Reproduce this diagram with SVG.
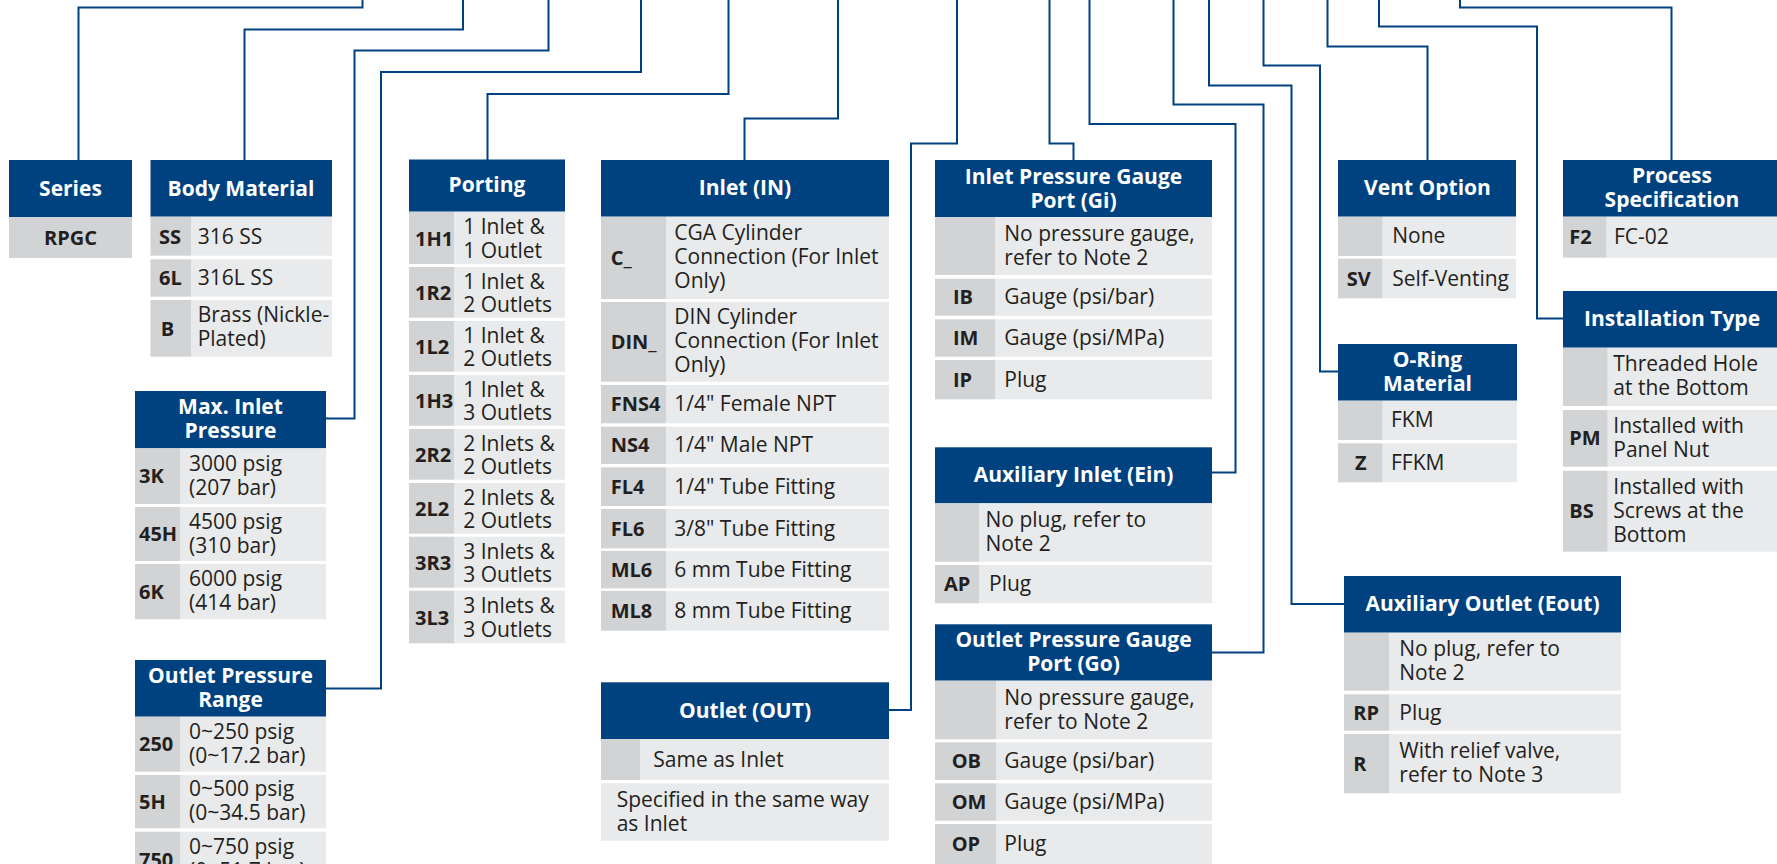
<svg xmlns="http://www.w3.org/2000/svg" width="1777" height="864" viewBox="0 0 1777 864">
  <style>
    .hd { fill: #004180; }
    .cc { fill: #d1d3d4; }
    .dc { fill: #e9eaeb; }
    .ht { font-family: "Open Sans", "Noto Sans", sans-serif; font-weight: bold; font-size: 21px; fill: #ffffff; text-anchor: middle; }
    .ct { font-family: "Open Sans", "Noto Sans", sans-serif; font-weight: bold; font-size: 20px; fill: #231f20; }
    .dt { font-family: "Open Sans", "Noto Sans", sans-serif; font-size: 21px; fill: #231f20; }
    .ln { fill: none; stroke: #004180; stroke-width: 2; }
  </style>
  <rect width="1777" height="864" fill="#ffffff"/>

  <!-- leader lines from the ordering code down to each option table -->
  <g id="connectors" class="ln">
    <polyline points="78.5,160 78.5,7.5 362.5,7.5 362.5,-2"/>
    <polyline points="244.5,160 244.5,29.5 463,29.5 463,-2"/>
    <polyline points="326,418.5 354.5,418.5 354.5,50.5 548.5,50.5 548.5,-2"/>
    <polyline points="326,688.5 381,688.5 381,72 641,72 641,-2"/>
    <polyline points="487.5,160 487.5,94 728.5,94 728.5,-2"/>
    <polyline points="744.5,160 744.5,118.5 838,118.5 838,-2"/>
    <polyline points="889,710 911,710 911,143.5 957,143.5 957,-2"/>
    <polyline points="1073.5,160 1073.5,143.5 1049.5,143.5 1049.5,-2"/>
    <polyline points="1212,472.5 1235.5,472.5 1235.5,124 1089.5,124 1089.5,-2"/>
    <polyline points="1212,652.5 1263.5,652.5 1263.5,104.5 1173.5,104.5 1173.5,-2"/>
    <polyline points="1344,604 1291.5,604 1291.5,85.5 1209,85.5 1209,-2"/>
    <polyline points="1338,371.5 1320,371.5 1320,65.5 1263.5,65.5 1263.5,-2"/>
    <polyline points="1427.5,160 1427.5,46.5 1327.5,46.5 1327.5,-2"/>
    <polyline points="1563,318.5 1537,318.5 1537,26.5 1379,26.5 1379,-2"/>
    <polyline points="1671.5,160 1671.5,7.5 1460,7.5 1460,-2"/>
  </g>

  <!-- Series -->
  <g id="series">
    <rect class="hd" x="9" y="160" width="123" height="57"/>
    <text class="ht" x="70.5" y="196">Series</text>
    <rect class="cc" x="9" y="217" width="123" height="41"/>
    <text class="ct" x="70.5" y="245" text-anchor="middle">RPGC</text>
  </g>

  <!-- Body Material -->
  <g id="body-material">
    <rect class="hd" x="150.5" y="160" width="181.5" height="56.7"/>
    <text class="ht" x="241" y="196">Body Material</text>
    <rect class="cc" x="150.5" y="216.7" width="40.5" height="39"/>
    <rect class="dc" x="191" y="216.7" width="141" height="39"/>
    <text class="ct" x="159" y="243.5">SS</text>
    <text class="dt" x="197.7" y="243.5">316 SS</text>
    <rect class="cc" x="150.5" y="259.3" width="40.5" height="37.4"/>
    <rect class="dc" x="191" y="259.3" width="141" height="37.4"/>
    <text class="ct" x="159" y="285">6L</text>
    <text class="dt" x="197.7" y="285">316L SS</text>
    <rect class="cc" x="150.5" y="300" width="40.5" height="56.7"/>
    <rect class="dc" x="191" y="300" width="141" height="56.7"/>
    <text class="ct" x="160.7" y="336">B</text>
    <text class="dt" x="197.7" y="322">Brass (Nickle-<tspan x="197.7" dy="24">Plated)</tspan></text>
  </g>

  <!-- Max. Inlet Pressure -->
  <g id="max-inlet-pressure">
    <rect class="hd" x="135" y="391" width="191" height="57.3"/>
    <text class="ht" x="230.5" y="414.2">Max. Inlet<tspan x="230.5" dy="24">Pressure</tspan></text>
    <rect class="cc" x="135" y="448.3" width="45" height="55.7"/>
    <rect class="dc" x="180" y="448.3" width="146" height="55.7"/>
    <text class="ct" x="139" y="483.2">3K</text>
    <text class="dt" x="189" y="470.7">3000 psig<tspan x="189" dy="24">(207 bar)</tspan></text>
    <rect class="cc" x="135" y="507" width="45" height="54"/>
    <rect class="dc" x="180" y="507" width="146" height="54"/>
    <text class="ct" x="139" y="541">45H</text>
    <text class="dt" x="189" y="528.5">4500 psig<tspan x="189" dy="24">(310 bar)</tspan></text>
    <rect class="cc" x="135" y="564" width="45" height="55.3"/>
    <rect class="dc" x="180" y="564" width="146" height="55.3"/>
    <text class="ct" x="139" y="598.7">6K</text>
    <text class="dt" x="189" y="586.2">6000 psig<tspan x="189" dy="24">(414 bar)</tspan></text>
  </g>

  <!-- Outlet Pressure Range -->
  <g id="outlet-pressure-range">
    <rect class="hd" x="135" y="660" width="191" height="56.7"/>
    <text class="ht" x="230.5" y="682.8">Outlet Pressure<tspan x="230.5" dy="24">Range</tspan></text>
    <rect class="cc" x="135" y="716.7" width="45" height="55"/>
    <rect class="dc" x="180" y="716.7" width="146" height="55"/>
    <text class="ct" x="139" y="751.2">250</text>
    <text class="dt" x="189" y="738.7">0~250 psig<tspan x="189" dy="24">(0~17.2 bar)</tspan></text>
    <rect class="cc" x="135" y="775" width="45" height="53.3"/>
    <rect class="dc" x="180" y="775" width="146" height="53.3"/>
    <text class="ct" x="139" y="808.7">5H</text>
    <text class="dt" x="189" y="796.2">0~500 psig<tspan x="189" dy="24">(0~34.5 bar)</tspan></text>
    <rect class="cc" x="135" y="831.7" width="45" height="56"/>
    <rect class="dc" x="180" y="831.7" width="146" height="56"/>
    <text class="ct" x="139" y="866.7">750</text>
    <text class="dt" x="189" y="854.2">0~750 psig<tspan x="189" dy="24">(0~51.7 bar)</tspan></text>
  </g>

  <!-- Porting -->
  <g id="porting">
    <rect class="hd" x="409" y="159.5" width="156" height="52.2"/>
    <text class="ht" x="487" y="192">Porting</text>
    <rect class="cc" x="409" y="211.7" width="45" height="52.3"/>
    <rect class="dc" x="454" y="211.7" width="111" height="52.3"/>
    <text class="ct" x="415" y="245.5">1H1</text>
    <text class="dt" x="463.3" y="234.3">1 Inlet &amp;<tspan x="463.3" dy="23.3">1 Outlet</tspan></text>
    <rect class="cc" x="409" y="267" width="45" height="50.7"/>
    <rect class="dc" x="454" y="267" width="111" height="50.7"/>
    <text class="ct" x="415" y="300">1R2</text>
    <text class="dt" x="463.3" y="288.7">1 Inlet &amp;<tspan x="463.3" dy="23.3">2 Outlets</tspan></text>
    <rect class="cc" x="409" y="321" width="45" height="50.7"/>
    <rect class="dc" x="454" y="321" width="111" height="50.7"/>
    <text class="ct" x="415" y="354">1L2</text>
    <text class="dt" x="463.3" y="342.7">1 Inlet &amp;<tspan x="463.3" dy="23.3">2 Outlets</tspan></text>
    <rect class="cc" x="409" y="375" width="45" height="50.7"/>
    <rect class="dc" x="454" y="375" width="111" height="50.7"/>
    <text class="ct" x="415" y="408">1H3</text>
    <text class="dt" x="463.3" y="396.7">1 Inlet &amp;<tspan x="463.3" dy="23.3">3 Outlets</tspan></text>
    <rect class="cc" x="409" y="429" width="45" height="50.7"/>
    <rect class="dc" x="454" y="429" width="111" height="50.7"/>
    <text class="ct" x="415" y="462">2R2</text>
    <text class="dt" x="463.3" y="450.7">2 Inlets &amp;<tspan x="463.3" dy="23.3">2 Outlets</tspan></text>
    <rect class="cc" x="409" y="483" width="45" height="50.7"/>
    <rect class="dc" x="454" y="483" width="111" height="50.7"/>
    <text class="ct" x="415" y="516">2L2</text>
    <text class="dt" x="463.3" y="504.7">2 Inlets &amp;<tspan x="463.3" dy="23.3">2 Outlets</tspan></text>
    <rect class="cc" x="409" y="536.7" width="45" height="51"/>
    <rect class="dc" x="454" y="536.7" width="111" height="51"/>
    <text class="ct" x="415" y="570">3R3</text>
    <text class="dt" x="463.3" y="558.6">3 Inlets &amp;<tspan x="463.3" dy="23.3">3 Outlets</tspan></text>
    <rect class="cc" x="409" y="590.7" width="45" height="52.6"/>
    <rect class="dc" x="454" y="590.7" width="111" height="52.6"/>
    <text class="ct" x="415" y="624.7">3L3</text>
    <text class="dt" x="463.3" y="613.4">3 Inlets &amp;<tspan x="463.3" dy="23.3">3 Outlets</tspan></text>
  </g>

  <!-- Inlet (IN) -->
  <g id="inlet">
    <rect class="hd" x="601" y="160" width="288" height="56.7"/>
    <text class="ht" x="745" y="195.3">Inlet (IN)</text>
    <rect class="cc" x="601" y="216.7" width="65" height="82.3"/>
    <rect class="dc" x="666" y="216.7" width="223" height="82.3"/>
    <text class="ct" x="610.7" y="264.8">C_</text>
    <text class="dt" x="674.3" y="240">CGA Cylinder<tspan x="674.3" dy="24">Connection (For Inlet</tspan><tspan x="674.3" dy="23.5">Only)</tspan></text>
    <rect class="cc" x="601" y="302" width="65" height="79.7"/>
    <rect class="dc" x="666" y="302" width="223" height="79.7"/>
    <text class="ct" x="610.7" y="348.8">DIN_</text>
    <text class="dt" x="674.3" y="324.3">DIN Cylinder<tspan x="674.3" dy="24">Connection (For Inlet</tspan><tspan x="674.3" dy="23.5">Only)</tspan></text>
    <rect class="cc" x="601" y="385" width="65" height="38.3"/>
    <rect class="dc" x="666" y="385" width="223" height="38.3"/>
    <text class="ct" x="610.7" y="411.2">FNS4</text>
    <text class="dt" x="674.3" y="411.2">1/4" Female NPT</text>
    <rect class="cc" x="601" y="426.7" width="65" height="37.3"/>
    <rect class="dc" x="666" y="426.7" width="223" height="37.3"/>
    <text class="ct" x="610.7" y="452.3">NS4</text>
    <text class="dt" x="674.3" y="452.3">1/4" Male NPT</text>
    <rect class="cc" x="601" y="467.3" width="65" height="38.7"/>
    <rect class="dc" x="666" y="467.3" width="223" height="38.7"/>
    <text class="ct" x="610.7" y="493.7">FL4</text>
    <text class="dt" x="674.3" y="493.7">1/4" Tube Fitting</text>
    <rect class="cc" x="601" y="509" width="65" height="39.3"/>
    <rect class="dc" x="666" y="509" width="223" height="39.3"/>
    <text class="ct" x="610.7" y="535.7">FL6</text>
    <text class="dt" x="674.3" y="535.7">3/8" Tube Fitting</text>
    <rect class="cc" x="601" y="551" width="65" height="37.3"/>
    <rect class="dc" x="666" y="551" width="223" height="37.3"/>
    <text class="ct" x="610.7" y="576.7">ML6</text>
    <text class="dt" x="674.3" y="576.7">6 mm Tube Fitting</text>
    <rect class="cc" x="601" y="591" width="65" height="39.7"/>
    <rect class="dc" x="666" y="591" width="223" height="39.7"/>
    <text class="ct" x="610.7" y="617.8">ML8</text>
    <text class="dt" x="674.3" y="617.8">8 mm Tube Fitting</text>
  </g>

  <!-- Outlet (OUT) -->
  <g id="outlet">
    <rect class="hd" x="601" y="682.3" width="288" height="56.7"/>
    <text class="ht" x="745" y="717.7">Outlet (OUT)</text>
    <rect class="cc" x="601" y="739" width="39" height="41"/>
    <rect class="dc" x="640" y="739" width="249" height="41"/>
    <text class="dt" x="653.3" y="766.5">Same as Inlet</text>
    <rect class="dc" x="601" y="783.3" width="288" height="57.4"/>
    <text class="dt" x="616.7" y="806.5">Specified in the same way<tspan x="616.7" dy="24">as Inlet</tspan></text>
  </g>

  <!-- Inlet Pressure Gauge Port (Gi) -->
  <g id="inlet-gauge-port">
    <rect class="hd" x="935" y="160" width="277" height="57"/>
    <text class="ht" x="1073.5" y="183.5">Inlet Pressure Gauge<tspan x="1073.5" dy="24">Port (Gi)</tspan></text>
    <rect class="cc" x="935" y="217" width="60" height="58"/>
    <rect class="dc" x="995" y="217" width="217" height="58"/>
    <text class="dt" x="1004.3" y="240.5">No pressure gauge,<tspan x="1004.3" dy="24">refer to Note 2</tspan></text>
    <rect class="cc" x="935" y="278.7" width="60" height="37"/>
    <rect class="dc" x="995" y="278.7" width="217" height="37"/>
    <text class="ct" x="953" y="304.2">IB</text>
    <text class="dt" x="1004.3" y="304.2">Gauge (psi/bar)</text>
    <rect class="cc" x="935" y="319.3" width="60" height="37.4"/>
    <rect class="dc" x="995" y="319.3" width="217" height="37.4"/>
    <text class="ct" x="953" y="345">IM</text>
    <text class="dt" x="1004.3" y="345">Gauge (psi/MPa)</text>
    <rect class="cc" x="935" y="360" width="60" height="39.3"/>
    <rect class="dc" x="995" y="360" width="217" height="39.3"/>
    <text class="ct" x="953" y="386.7">IP</text>
    <text class="dt" x="1004.3" y="386.7">Plug</text>
  </g>

  <!-- Auxiliary Inlet (Ein) -->
  <g id="auxiliary-inlet">
    <rect class="hd" x="935" y="447.3" width="277" height="56"/>
    <text class="ht" x="1073.5" y="482.3">Auxiliary Inlet (Ein)</text>
    <rect class="cc" x="935" y="503.3" width="44" height="58.4"/>
    <rect class="dc" x="979" y="503.3" width="233" height="58.4"/>
    <text class="dt" x="985.5" y="527">No plug, refer to<tspan x="985.5" dy="24">Note 2</tspan></text>
    <rect class="cc" x="935" y="565" width="44" height="38.3"/>
    <rect class="dc" x="979" y="565" width="233" height="38.3"/>
    <text class="ct" x="944" y="591.2">AP</text>
    <text class="dt" x="989" y="591.2">Plug</text>
  </g>

  <!-- Outlet Pressure Gauge Port (Go) -->
  <g id="outlet-gauge-port">
    <rect class="hd" x="935" y="624.3" width="277" height="56.4"/>
    <text class="ht" x="1073.5" y="647">Outlet Pressure Gauge<tspan x="1073.5" dy="24">Port (Go)</tspan></text>
    <rect class="cc" x="935" y="680.7" width="61" height="58.6"/>
    <rect class="dc" x="996" y="680.7" width="216" height="58.6"/>
    <text class="dt" x="1004.3" y="704.5">No pressure gauge,<tspan x="1004.3" dy="24">refer to Note 2</tspan></text>
    <rect class="cc" x="935" y="742.3" width="61" height="37.7"/>
    <rect class="dc" x="996" y="742.3" width="216" height="37.7"/>
    <text class="ct" x="951.7" y="768.2">OB</text>
    <text class="dt" x="1004.3" y="768.2">Gauge (psi/bar)</text>
    <rect class="cc" x="935" y="783.3" width="61" height="37.4"/>
    <rect class="dc" x="996" y="783.3" width="216" height="37.4"/>
    <text class="ct" x="951.7" y="809">OM</text>
    <text class="dt" x="1004.3" y="809">Gauge (psi/MPa)</text>
    <rect class="cc" x="935" y="824" width="61" height="40"/>
    <rect class="dc" x="996" y="824" width="216" height="40"/>
    <text class="ct" x="951.7" y="851">OP</text>
    <text class="dt" x="1004.3" y="851">Plug</text>
  </g>

  <!-- Vent Option -->
  <g id="vent-option">
    <rect class="hd" x="1338" y="160" width="178" height="56.7"/>
    <text class="ht" x="1427.5" y="195.3">Vent Option</text>
    <rect class="cc" x="1338" y="216.7" width="44.7" height="39.3"/>
    <rect class="dc" x="1382.7" y="216.7" width="133.3" height="39.3"/>
    <text class="dt" x="1392.3" y="243.3">None</text>
    <rect class="cc" x="1338" y="258.7" width="44.7" height="39.6"/>
    <rect class="dc" x="1382.7" y="258.7" width="133.3" height="39.6"/>
    <text class="ct" x="1346.7" y="285.5">SV</text>
    <text class="dt" x="1392.3" y="285.5">Self-Venting</text>
  </g>

  <!-- O-Ring Material -->
  <g id="o-ring-material">
    <rect class="hd" x="1338" y="344" width="179" height="56.7"/>
    <text class="ht" x="1427.5" y="366.8">O-Ring<tspan x="1427.5" dy="24">Material</tspan></text>
    <rect class="cc" x="1338" y="400.7" width="44.7" height="39.3"/>
    <rect class="dc" x="1382.7" y="400.7" width="134.3" height="39.3"/>
    <text class="dt" x="1391" y="427.3">FKM</text>
    <rect class="cc" x="1338" y="443.3" width="44.7" height="39"/>
    <rect class="dc" x="1382.7" y="443.3" width="134.3" height="39"/>
    <text class="ct" x="1355" y="469.8">Z</text>
    <text class="dt" x="1391" y="469.8">FFKM</text>
  </g>

  <!-- Auxiliary Outlet (Eout) -->
  <g id="auxiliary-outlet">
    <rect class="hd" x="1344" y="576" width="277" height="56.7"/>
    <text class="ht" x="1482.5" y="611.3">Auxiliary Outlet (Eout)</text>
    <rect class="cc" x="1344" y="632.7" width="45" height="58"/>
    <rect class="dc" x="1389" y="632.7" width="232" height="58"/>
    <text class="dt" x="1399.3" y="656.2">No plug, refer to<tspan x="1399.3" dy="24">Note 2</tspan></text>
    <rect class="cc" x="1344" y="694.3" width="45" height="36.4"/>
    <rect class="dc" x="1389" y="694.3" width="232" height="36.4"/>
    <text class="ct" x="1353.3" y="719.5">RP</text>
    <text class="dt" x="1399.3" y="719.5">Plug</text>
    <rect class="cc" x="1344" y="734" width="45" height="59.3"/>
    <rect class="dc" x="1389" y="734" width="232" height="59.3"/>
    <text class="ct" x="1353.3" y="770.7">R</text>
    <text class="dt" x="1399.3" y="758.2">With relief valve,<tspan x="1399.3" dy="24">refer to Note 3</tspan></text>
  </g>

  <!-- Process Specification -->
  <g id="process-specification">
    <rect class="hd" x="1563" y="160" width="217" height="56.7"/>
    <text class="ht" x="1672" y="182.8">Process<tspan x="1672" dy="24">Specification</tspan></text>
    <rect class="cc" x="1563" y="216.7" width="43.7" height="41"/>
    <rect class="dc" x="1606.7" y="216.7" width="173.3" height="41"/>
    <text class="ct" x="1569.3" y="244.2">F2</text>
    <text class="dt" x="1614" y="244.2">FC-02</text>
  </g>

  <!-- Installation Type -->
  <g id="installation-type">
    <rect class="hd" x="1563" y="291" width="217" height="56.7"/>
    <text class="ht" x="1672" y="326.3">Installation Type</text>
    <rect class="cc" x="1563" y="347.7" width="44.7" height="58.3"/>
    <rect class="dc" x="1607.7" y="347.7" width="172.3" height="58.3"/>
    <text class="dt" x="1613.3" y="371.3">Threaded Hole<tspan x="1613.3" dy="24">at the Bottom</tspan></text>
    <rect class="cc" x="1563" y="410" width="44.7" height="56.7"/>
    <rect class="dc" x="1607.7" y="410" width="172.3" height="56.7"/>
    <text class="ct" x="1569.3" y="445.3">PM</text>
    <text class="dt" x="1613.3" y="432.8">Installed with<tspan x="1613.3" dy="24">Panel Nut</tspan></text>
    <rect class="cc" x="1563" y="470.7" width="44.7" height="81"/>
    <rect class="dc" x="1607.7" y="470.7" width="172.3" height="81"/>
    <text class="ct" x="1569.3" y="518.2">BS</text>
    <text class="dt" x="1613.3" y="493.7">Installed with<tspan x="1613.3" dy="24">Screws at the</tspan><tspan x="1613.3" dy="24">Bottom</tspan></text>
  </g>
</svg>
